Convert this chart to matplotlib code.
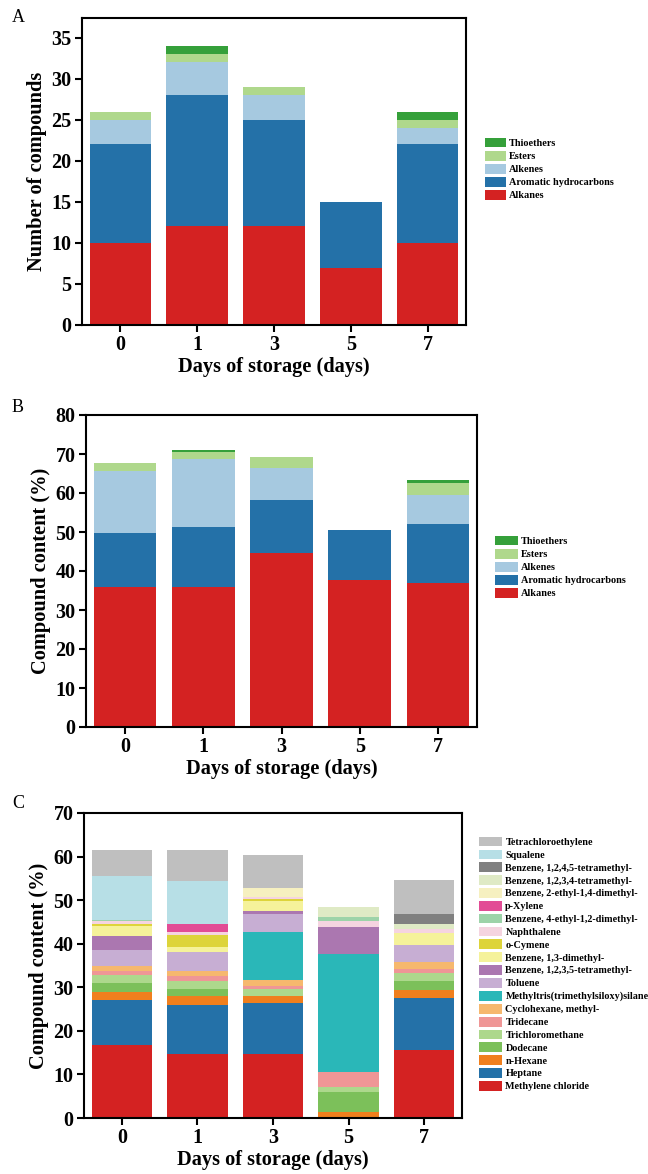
import numpy as np
import matplotlib
matplotlib.use("Agg")
import matplotlib.pyplot as plt
from matplotlib.patches import Patch

plt.rcParams['font.family'] = ['Liberation Serif', 'DejaVu Serif']

days = ["0", "1", "3", "5", "7"]

# Panel A: number of compounds
groups = ["Alkanes", "Aromatic hydrocarbons", "Alkenes", "Esters", "Thioethers"]
count_alkanes = [10, 12, 12, 7, 10]
count_aromatic = [12, 16, 13, 8, 12]
count_alkenes = [3, 4, 3, 0, 2]
count_esters = [1, 1, 1, 0, 1]
count_thioethers = [0, 1, 0, 0, 1]

# Panel B: compound content (%)
pct_alkanes = [36.0, 35.8, 44.5, 37.6, 37.0]
pct_aromatic = [13.8, 15.4, 13.7, 12.9, 15.0]
pct_alkenes = [15.9, 17.4, 8.3, 0.0, 7.5]
pct_esters = [2.0, 2.0, 2.8, 0.0, 3.1]
pct_thioethers = [0.0, 0.5, 0.0, 0.0, 0.7]

group_colors = ["#d42222", "#2471a8", "#a6c9e0", "#afd88c", "#35a03a"]

# Panel C: individual compounds (bottom to top)
compounds = [
    "Methylene chloride", "Heptane", "n-Hexane", "Dodecane", "Trichloromethane",
    "Tridecane", "Cyclohexane, methyl-", "Methyltris(trimethylsiloxy)silane",
    "Toluene", "Benzene, 1,2,3,5-tetramethyl-", "Benzene, 1,3-dimethyl-",
    "o-Cymene", "Naphthalene", "Benzene, 4-ethyl-1,2-dimethyl-", "p-Xylene",
    "Benzene, 2-ethyl-1,4-dimethyl-", "Benzene, 1,2,3,4-tetramethyl-",
    "Benzene, 1,2,4,5-tetramethyl-", "Squalene", "Tetrachloroethylene",
]
c_methylene_chloride = [16.7, 14.8, 14.8, 0.0, 15.5]
c_heptane = [10.3, 11.1, 11.5, 0.0, 12.0]
c_n_hexane = [1.9, 2.0, 1.7, 1.3, 1.9]
c_dodecane = [2.0, 1.8, 0.0, 4.7, 2.1]
c_trichloromethane = [1.9, 1.8, 1.6, 1.2, 1.8]
c_tridecane = [1.0, 1.1, 0.7, 3.4, 1.0]
c_cyclohexane_methyl = [1.0, 1.1, 1.3, 0.0, 1.4]
c_methyltris = [0.0, 0.0, 11.1, 27.0, 0.0]
c_toluene = [3.8, 4.3, 4.2, 0.0, 4.1]
c_b1235 = [3.1, 0.0, 0.6, 6.3, 0.0]
c_b13 = [2.3, 1.3, 2.2, 0.0, 2.6]
c_o_cymene = [0.6, 2.8, 0.5, 0.0, 0.0]
c_naphthalene = [0.6, 0.7, 0.5, 1.4, 1.0]
c_b4e12 = [0.3, 0.0, 0.0, 0.8, 0.0]
c_p_xylene = [0.0, 1.8, 0.0, 0.0, 0.0]
c_b2e14 = [0.0, 0.0, 2.0, 0.0, 0.0]
c_b1234 = [0.0, 0.0, 0.0, 2.4, 1.2]
c_b1245 = [0.0, 0.0, 0.0, 0.0, 2.3]
c_squalene = [10.1, 9.9, 0.0, 0.0, 0.0]
c_tetrachloroethylene = [5.8, 7.1, 7.7, 0.0, 7.7]

compound_colors = [
    "#d42222", "#2471a8", "#f07f1d", "#7cc05a", "#add88c",
    "#ef9696", "#f6b86e", "#2ab7b8", "#c7aed3", "#ab77b0",
    "#f5f29a", "#ddd43a", "#f5d4e0", "#9dd3a9", "#e24c95",
    "#f6f0c0", "#dfeac5", "#808080", "#b7dfe6", "#bfbfbf",
]

W, H = 648, 1174
fig = plt.figure(figsize=(W / 100, H / 100), dpi=100)


def make_ax(left, right, top, bottom):
    return fig.add_axes([left / W, 1 - bottom / H, (right - left) / W, (bottom - top) / H])


def style(ax, ylabel, ylim, yticks):
    x = np.arange(len(days))
    ax.set_xticks(x)
    ax.set_xticklabels(days)
    ax.set_xlim(-0.5, 4.5)
    ax.set_ylim(*ylim)
    ax.set_yticks(yticks)
    for s in ax.spines.values():
        s.set_linewidth(1.5)
    ax.tick_params(direction='out', length=5, width=1.5, labelsize=14.5, pad=2.5)
    for lab in ax.get_xticklabels() + ax.get_yticklabels():
        lab.set_fontweight('bold')
    ax.set_xlabel("Days of storage (days)", fontsize=14.7, fontweight='bold', labelpad=1)
    ax.set_ylabel(ylabel, fontsize=14.7, fontweight='bold', labelpad=3)


def stacked(ax, series, colors, width=0.8):
    x = np.arange(len(days))
    bottom = np.zeros(len(days))
    for vals, col in zip(series, colors):
        v = np.array(vals, dtype=float)
        ax.bar(x, v, width, bottom=bottom, color=col, edgecolor='none', linewidth=0)
        bottom += v


def legend(ax, labels, colors, loc_xy, fontsize, spacing, hl):
    handles = [Patch(facecolor=c, edgecolor='none') for c in colors]
    leg = ax.legend(handles[::-1], labels[::-1], loc='center left', bbox_to_anchor=loc_xy,
                    bbox_transform=fig.transFigure, frameon=False,
                    prop={'family': 'Liberation Serif', 'weight': 'bold', 'size': fontsize},
                    handlelength=hl, handleheight=1.1, handletextpad=0.3,
                    labelspacing=spacing, borderaxespad=0, borderpad=0)
    return leg


# Panel A
axA = make_ax(82, 466, 18, 325)
stacked(axA, [count_alkanes, count_aromatic, count_alkenes, count_esters, count_thioethers], group_colors)
style(axA, "Number of compounds", (0, 37.4), np.arange(0, 36, 5))
legend(axA, groups, group_colors, (485 / W, 1 - 169 / H), 7.4, 0.26, 2.0)
fig.text(12 / W, 1 - 17 / H, "A", fontsize=13, ha='left', va='center')

# Panel B
axB = make_ax(86, 477, 415, 727)
stacked(axB, [pct_alkanes, pct_aromatic, pct_alkenes, pct_esters, pct_thioethers], group_colors)
style(axB, "Compound content (%)", (0, 80), np.arange(0, 81, 10))
legend(axB, groups, group_colors, (495 / W, 1 - 567 / H), 7.4, 0.26, 2.2)
fig.text(12 / W, 1 - 408 / H, "B", fontsize=13, ha='left', va='center')

# Panel C
axC = make_ax(84, 462, 813, 1118)
c_series = [c_methylene_chloride, c_heptane, c_n_hexane, c_dodecane, c_trichloromethane,
            c_tridecane, c_cyclohexane_methyl, c_methyltris, c_toluene, c_b1235, c_b13,
            c_o_cymene, c_naphthalene, c_b4e12, c_p_xylene, c_b2e14, c_b1234, c_b1245,
            c_squalene, c_tetrachloroethylene]
stacked(axC, c_series, compound_colors)
style(axC, "Compound content (%)", (0, 70), np.arange(0, 71, 10))
legend(axC, compounds, compound_colors, (479 / W, 1 - 964 / H), 7.3, 0.25, 2.3)
fig.text(12 / W, 1 - 803 / H, "C", fontsize=13, ha='left', va='center')

fig.savefig("out.png", dpi=100)
